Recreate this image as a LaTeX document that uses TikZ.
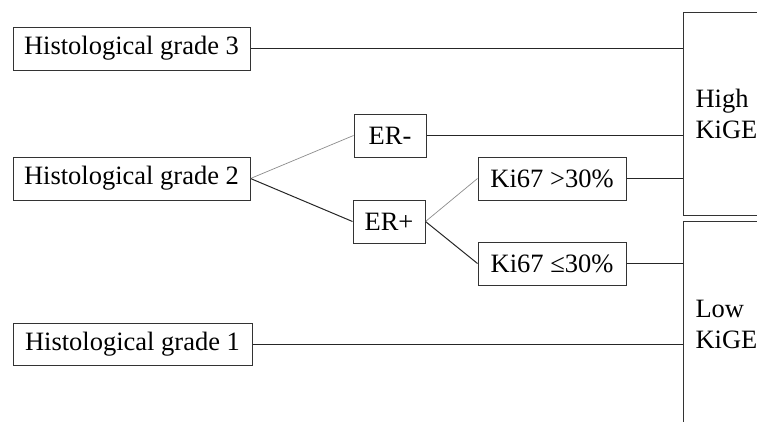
\documentclass[tikz,border=0pt]{standalone}
\usepackage{fontspec}
\setmainfont{Liberation Serif}
\begin{document}
\begin{tikzpicture}[x=1pt,y=-1pt,
  box/.style={draw=black!80, line width=1pt, rectangle, inner sep=0pt,
    font=\fontsize{26.5pt}{31pt}\selectfont},
  kige/.style={box, anchor=north west, text width=80pt, inner xsep=12pt, align=left},
  link/.style={line width=1pt, draw=black!85},
  faint/.style={line width=0.7pt, draw=black!45}]
\useasboundingbox (0,0) rectangle (757,421);
\node[box, minimum width=237pt, minimum height=43pt] (g3) at (131.5,48.5) {Histological grade 3};
\node[box, minimum width=237pt, minimum height=43pt] (g2) at (131.5,178.5) {Histological grade 2};
\node[box, minimum width=239pt, minimum height=42pt] (g1) at (132.5,344) {Histological grade 1};
\node[box, minimum width=72pt, minimum height=43pt] (ern) at (390,135.5) {ER-};
\node[box, minimum width=72pt, minimum height=43pt] (erp) at (389,221.5) {ER+};
\node[box, minimum width=148pt, minimum height=43pt] (k1) at (552,178.5) {Ki67 >30\%};
\node[box, minimum width=148pt, minimum height=43pt] (k2) at (552,263.5) {Ki67 ≤30\%};
\node[kige, minimum height=203pt] (high) at (683,12) {High\\KiGE};
\node[kige, minimum height=205pt] (low) at (683,221) {Low\\KiGE};
\draw[link] (g3.east) -- (g3.east -| high.west);
\draw[faint] (g2.east) -- (ern.west);
\draw[link] (g2.east) -- (erp.west);
\draw[link] (ern.east) -- (ern.east -| high.west);
\draw[faint] (erp.east) -- (k1.west);
\draw[link] (erp.east) -- (k2.west);
\draw[link] (k1.east) -- (k1.east -| high.west);
\draw[link] (k2.east) -- (k2.east -| low.west);
\draw[link] (g1.east) -- (g1.east -| low.west);
\end{tikzpicture}
\end{document}
